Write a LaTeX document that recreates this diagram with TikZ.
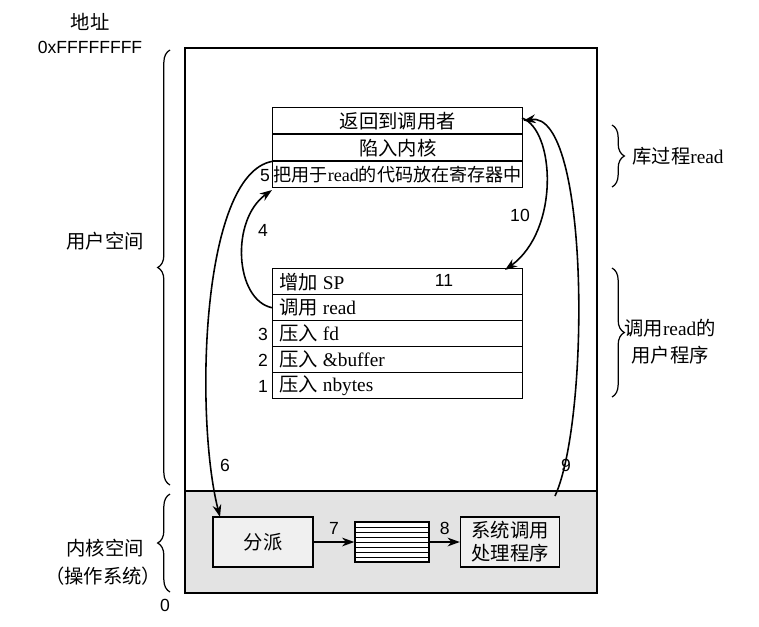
\documentclass[tikz,border=0pt]{standalone}
\usepackage{fontspec}
\setmainfont{Liberation Serif}
\newfontfamily\cjk{Noto Sans CJK SC}
\newfontfamily\numf{Liberation Sans}
\usetikzlibrary{arrows.meta,decorations.pathreplacing}
\newcommand{\zh}[1]{{\cjk #1}}
\begin{document}
\begin{tikzpicture}[x=0.02cm,y=-0.02cm,
  every node/.style={font=\fontsize{11}{13}\selectfont, inner sep=0pt},
  row/.style={draw, line width=0.8pt, minimum width=5cm, minimum height=0.52cm, anchor=north west},
  box/.style={draw, line width=0.8pt, fill=gray!12},
  num/.style={font=\numf\fontsize{10}{12}\selectfont},
  arr/.style={-{Stealth[length=7pt,width=5pt]}, line width=0.9pt},
  brace/.style={decorate, decoration={brace, amplitude=7pt}, line width=0.7pt}]
\useasboundingbox (0,0) rectangle (759,626);
% outer frame and kernel area
\fill[gray!22] (185,491) rectangle (597,593);
\draw[line width=0.9pt] (185,491) -- (597,491);
\draw[line width=0.9pt] (185,48) rectangle (597,593);
% top library box
\node[row] (r1) at (272,107) {\zh{返回到调用者}};
\node[row] (r2) at (272,134) {\zh{陷入内核}};
\node[row, font=\fontsize{10.3}{12}\selectfont] (r3) at (272,161) {\zh{把用于}read\zh{的代码放在寄存器中}};
% lower user program box
\node[row] (u1) at (272,268) {};
\node[row] (u2) at (272,294) {};
\node[row] (u3) at (272,320) {};
\node[row] (u4) at (272,346) {};
\node[row] (u5) at (272,372) {};
\node[anchor=west] at (u1.west) {\hspace*{4pt}\zh{增加} SP};
\node[anchor=west] at (u2.west) {\hspace*{4pt}\zh{调用} read};
\node[anchor=west] at (u3.west) {\hspace*{4pt}\zh{压入} fd};
\node[anchor=west] at (u4.west) {\hspace*{4pt}\zh{压入} \&buffer};
\node[anchor=west] at (u5.west) {\hspace*{4pt}\zh{压入} nbytes};
% kernel boxes
\node[box, minimum width=2cm, minimum height=1cm] (disp) at (263,542) {\zh{分派}};
\node[draw, line width=0.8pt, fill=white, minimum width=1.48cm, minimum height=0.8cm] (tab) at (392,542) {};
\foreach \y in {527,532,537,542,547,552,557} \draw (355,\y) -- (429,\y);
\node[box, minimum width=1.98cm, minimum height=1cm, align=center] (hand) at (510,542) {\zh{系统调用}\\\zh{处理程序}};
% arrows
\draw[arr] (disp.east) -- node[num, above=4pt]{7} (tab.west);
\draw[arr] (tab.east) -- node[num, above=4pt]{8} (hand.west);
\draw[arr] (u2.west) .. controls (235,300) and (230,220) .. (272,190);
\draw[arr] (r2.south west) .. controls (200,175) and (195,420) .. (220,517);
\draw[arr] (555,496) .. controls (590,420) and (590,110) .. (r1.east);
\draw[arr] (522,118) .. controls (555,130) and (560,230) .. (505,270);
% numbers
\node[num] at (265,176) {5};
\node[num] at (263,230) {4};
\node[num] at (520,215) {10};
\node[num] at (444,280) {11};
\node[num] at (263,334) {3};
\node[num] at (263,360) {2};
\node[num] at (263,386) {1};
\node[num] at (225,465) {6};
\node[num] at (566,465) {9};
\node[num] at (165,605) {0};
% braces and labels
\draw[brace] (612,125) -- (612,187);
\node[anchor=west] at (632,156) {\zh{库过程}read};
\draw[brace] (612,268) -- (612,397);
\node at (670,328) {\zh{调用}read\zh{的}};
\node at (670,355) {\zh{用户程序}};
\draw[brace] (170,485) -- (170,50);
\node at (105,241) {\zh{用户空间}};
\draw[brace] (170,592) -- (170,494);
\node at (105,548) {\zh{内核空间}};
\node at (103,576) {\zh{（操作系统）}};
\node at (90,22) {\zh{地址}};
\node[num] at (90,47) {0xFFFFFFFF};
\end{tikzpicture}
\end{document}
